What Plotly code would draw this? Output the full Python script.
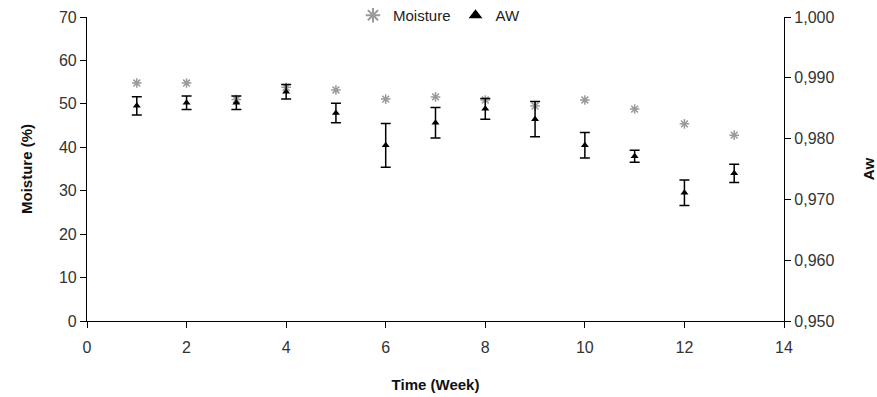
import plotly.graph_objects as go

weeks = [1, 2, 3, 4, 5, 6, 7, 8, 9, 10, 11, 12, 13]
moisture = [54.8, 54.8, 51.0, 53.8, 53.2, 51.1, 51.6, 50.9, 49.5, 50.9, 48.8, 45.4, 42.8]
aw = [0.9854, 0.9859, 0.9859, 0.9877, 0.9842, 0.9789, 0.9826, 0.9849, 0.9832, 0.9789, 0.9771, 0.9711, 0.9743]
aw_err = [0.0015, 0.0011, 0.0011, 0.0012, 0.0016, 0.0036, 0.0025, 0.0017, 0.0029, 0.0021, 0.0010, 0.0021, 0.0015]

x_ticks = [0, 2, 4, 6, 8, 10, 12, 14]
y1_ticks = [0, 10, 20, 30, 40, 50, 60, 70]
y2_ticks = [0.95, 0.96, 0.97, 0.98, 0.99, 1.00]

FONT = "Liberation Sans Narrow, Arial Narrow, Liberation Sans, Arial, sans-serif"
BOLD = "Liberation Sans, Arial, sans-serif"
TICKC = "#333"

fig = go.Figure()
fig.add_trace(go.Scatter(
    x=weeks, y=moisture, mode="markers", name="Moisture",
    marker=dict(symbol="asterisk-open", size=8, color="#9a9a9a",
                line=dict(color="#9a9a9a", width=1.5)),
    yaxis="y",
))
fig.add_trace(go.Scatter(
    x=weeks, y=aw, mode="markers", name="AW",
    marker=dict(symbol="triangle-up", size=7, color="black"),
    error_y=dict(type="data", array=aw_err, visible=True, color="black",
                 thickness=1.5, width=5),
    yaxis="y2",
))

fig.update_layout(
    width=877, height=397,
    margin=dict(l=87, r=93, t=17, b=76, autoexpand=False),
    paper_bgcolor="white", plot_bgcolor="white",
    separators=",.",
    showlegend=True,
    legend=dict(orientation="h", x=0.505, xanchor="center", y=1.005, yanchor="middle",
                font=dict(family=FONT, size=15, color="#222"),
                bgcolor="rgba(255,255,255,0)", itemwidth=30,
                itemsizing="constant"),
    xaxis=dict(range=[0, 14], tickvals=x_ticks, showgrid=False, zeroline=False,
               showline=True, linecolor="black", linewidth=1.2,
               ticks="outside", ticklen=6, tickcolor="black", automargin=False,
               ticklabelstandoff=6,
               tickfont=dict(family=FONT, size=16, color=TICKC),
               title=dict(text="<b>Time (Week)</b>", font=dict(family=BOLD, size=15, color="#111"), standoff=24)),
    yaxis=dict(range=[0, 70], tickvals=y1_ticks, showgrid=False, zeroline=False,
               showline=True, linecolor="black", linewidth=1.2,
               ticks="outside", ticklen=6, tickcolor="black", automargin=False,
               tickfont=dict(family=FONT, size=16, color=TICKC),
               title=dict(text="<b>Moisture (%)</b>", font=dict(family=BOLD, size=15, color="#111"), standoff=22)),
    yaxis2=dict(range=[0.95, 1.0], tickvals=y2_ticks, tickformat=".3f",
                overlaying="y", side="right", showgrid=False, zeroline=False,
                showline=True, linecolor="black", linewidth=1.2,
                ticks="outside", ticklen=6, tickcolor="black", automargin=False,
                tickfont=dict(family=FONT, size=16, color=TICKC),
                title=dict(text="<b>Aw</b>", font=dict(family=BOLD, size=15, color="#111"), standoff=30)),
)

fig.write_html("out.html")
